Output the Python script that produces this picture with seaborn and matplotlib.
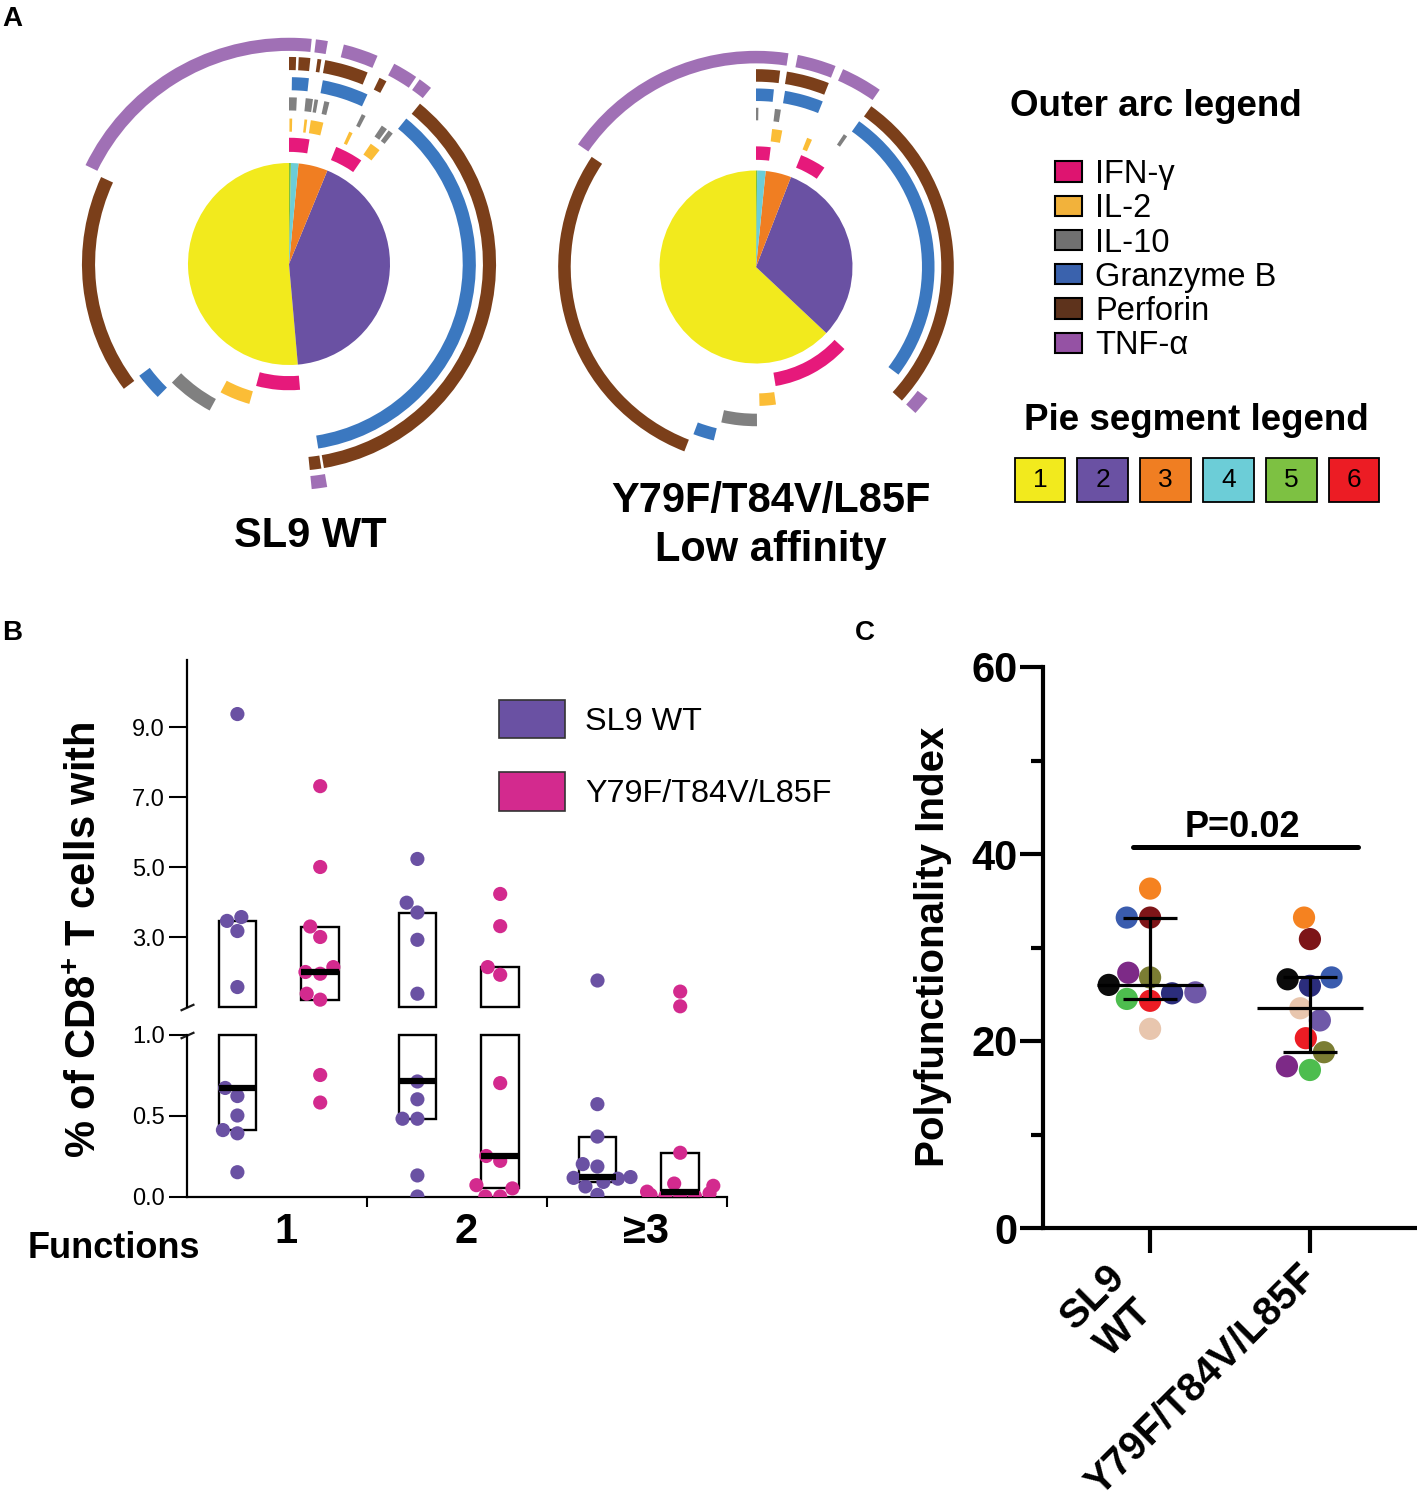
import numpy as np
import pandas as pd
import matplotlib
matplotlib.use('Agg')
import matplotlib.pyplot as plt
from matplotlib.patches import Patch
from matplotlib.ticker import FormatStrFormatter
from matplotlib.transforms import ScaledTranslation
import seaborn as sns

# ---------------------------------------------------------------- data
# Panel A : pie segments = % of the response with 1..6 functions
pie_labels = ['1', '2', '3', '4', '5', '6']
pie_wt = [51.4, 42.4, 4.7, 1.2, 0.3, 0.0]
pie_mut = [63.0, 31.1, 4.3, 1.4, 0.2, 0.0]

cytokines = ['IFN-γ', 'IL-2', 'IL-10', 'Granzyme B', 'Perforin', 'TNF-α']

# outer arcs : (start %, end %) of the pie covered by each function
# (percent measured counter-clockwise from 12 o'clock, like the pie)
arcs_wt_ifng = [(97.4, 100.0), (90.3, 93.9), (45.8, 51.4)]
arcs_wt_il2 = [(99.65, 99.95), (98.0, 98.3), (96.2, 97.6), (92.8, 93.2), (89.3, 90.5), (42.2, 45.6)]
arcs_wt_il10 = [(99.25, 100.0), (97.7, 98.4), (97.2, 97.55), (96.1, 96.6), (92.4, 92.8),
                (90.0, 90.6), (89.3, 89.8), (37.6, 42.1)]
arcs_wt_gzmb = [(98.3, 99.75), (93.1, 97.1), (52.5, 89.2), (35.2, 37.6)]
arcs_wt_perf = [(99.45, 100.0), (98.35, 99.25), (97.5, 97.8), (93.8, 97.2), (92.2, 92.8),
                (52.7, 89.1), (51.6, 52.5), (18.1, 35.3)]
arcs_wt_tnf = [(98.4, 17.8), (97.25, 98.1), (93.6, 96.1), (90.5, 92.3), (89.2, 90.2), (51.6, 52.7)]

arcs_mut_ifng = [(98.05, 100.0), (90.4, 93.9), (52.6, 63.1)]
arcs_mut_il2 = [(96.97, 98.15), (93.4, 94.0), (50.4, 52.3)]
arcs_mut_il10 = [(99.76, 100.0), (97.5, 98.1), (90.3, 90.7), (46.5, 50.1)]
arcs_mut_gzmb = [(98.4, 100.0), (93.9, 97.4), (64.7, 90.2), (44.3, 46.2)]
arcs_mut_perf = [(98.05, 100.0), (94.0, 97.5), (63.2, 90.1), (15.6, 44.1)]
arcs_mut_tnf = [(97.6, 15.4), (94.0, 96.9), (90.3, 93.4), (63.2, 64.6)]

# Panel B : % of CD8+ T cells with 1, 2, >=3 functions
func_labels = ['1', '2', '≥3']
groups = ['SL9 WT', 'Y79F/T84V/L85F']
b_wt_1 = [9.37, 3.46, 3.17, 3.57, 1.57, 0.67, 0.62, 0.50, 0.41, 0.39, 0.15]
b_mut_1 = [7.31, 5.0, 3.3, 3.0, 2.14, 1.95, 2.0, 1.21, 1.38, 0.75, 0.58]
b_wt_2 = [5.23, 3.98, 3.70, 2.92, 1.38, 0.71, 0.60, 0.48, 0.48, 0.13, 0.0]
b_mut_2 = [4.23, 3.31, 2.14, 1.92, 0.70, 0.22, 0.25, 0.05, 0.07, 0.0, 0.0]
b_wt_3 = [1.77, 0.57, 0.37, 0.20, 0.185, 0.12, 0.115, 0.11, 0.09, 0.062, 0.01]
b_mut_3 = [1.44, 1.02, 0.27, 0.08, 0.066, 0.03, 0.02, 0.01, 0.0, 0.0, 0.0]

# Panel C : polyfunctionality index per donor
donors = ['D1', 'D2', 'D3', 'D4', 'D5', 'D6', 'D7', 'D8', 'D9', 'D10', 'D11']
donor_colors = ['#0b0b0b', '#7b7d33', '#4dbd4e', '#6f58a8', '#ec1c24', '#2b2d7c',
                '#7d2a87', '#7d1518', '#3a5cae', '#f58220', '#e8c6ae']
pfi_wt = [26.0, 26.8, 24.5, 25.2, 24.3, 25.1, 27.3, 33.2, 33.2, 36.3, 21.3]
pfi_mut = [26.6, 18.8, 16.9, 22.2, 20.3, 25.9, 17.3, 30.9, 26.8, 33.2, 23.5]
p_text = 'P=0.02'

# ---------------------------------------------------------------- style
pie_colors = ['#f2ea1d', '#6a51a3', '#f07e22', '#6ccdd7', '#7dc142', '#ec1c24']
arc_colors = ['#e6197b', '#fbbd36', '#808080', '#3b78c0', '#7b3f1a', '#a070b5']
legend_arc_colors = ['#de1470', '#f2b23b', '#707070', '#3a62ad', '#5e331c', '#9552a4']
grp_colors = {'SL9 WT': '#6a51a3', 'Y79F/T84V/L85F': '#d32a8e'}

sns.set_theme(style='ticks')
plt.rcParams['font.family'] = ['Liberation Sans', 'DejaVu Sans']
plt.rcParams['mathtext.fontset'] = 'custom'
plt.rcParams['mathtext.rm'] = 'Liberation Sans'
plt.rcParams['mathtext.bf'] = 'Liberation Sans:bold'
plt.rcParams['axes.edgecolor'] = 'black'
plt.rcParams['xtick.color'] = 'black'
plt.rcParams['ytick.color'] = 'black'
plt.rcParams['text.color'] = 'black'

W, H = 1417, 1507
fig = plt.figure(figsize=(W / 100, H / 100), dpi=100)


def px_axes(l, t, r, b):
    return fig.add_axes([l / W, 1 - b / H, (r - l) / W, (b - t) / H])


def ftext(x, y, s, **kw):
    return fig.text(x / W, 1 - y / H, s, **kw)


# ---------------------------------------------------------------- panel A
rings = [(1.11, 1.25), (1.31, 1.44), (1.52, 1.65), (1.72, 1.85), (1.92, 2.05), (2.11, 2.24)]


def draw_ring(ax, spans, r_in, r_out, color):
    segs = []
    for s, e in spans:
        if e < s:
            segs += [(s, 100.0), (0.0, e)]
        else:
            segs.append((s, e))
    segs.sort()
    sizes, cols = [], []
    pos = 0.0
    for s, e in segs:
        s = max(s, pos)
        if s > pos:
            sizes.append(s - pos)
            cols.append((0, 0, 0, 0))
        if e > s:
            sizes.append(e - s)
            cols.append(color)
        pos = max(pos, e)
    if pos < 100:
        sizes.append(100 - pos)
        cols.append((0, 0, 0, 0))
    ax.pie(sizes, colors=cols, radius=r_out, startangle=90, counterclock=True,
           wedgeprops=dict(width=r_out - r_in, linewidth=0, edgecolor='none'))


LIM = 2.3
pies = [
    (289, 264, 101, pie_wt, [arcs_wt_ifng, arcs_wt_il2, arcs_wt_il10, arcs_wt_gzmb, arcs_wt_perf, arcs_wt_tnf]),
    (756, 267, 96.5, pie_mut, [arcs_mut_ifng, arcs_mut_il2, arcs_mut_il10, arcs_mut_gzmb, arcs_mut_perf, arcs_mut_tnf]),
]
for cx, cy, R, vals, arc_sets in pies:
    ax = px_axes(cx - LIM * R, cy - LIM * R, cx + LIM * R, cy + LIM * R)
    ax.pie(vals, colors=pie_colors, radius=1, startangle=90, counterclock=True,
           wedgeprops=dict(linewidth=0, edgecolor='none'))
    for spans, (ri, ro), col in zip(arc_sets, rings, arc_colors):
        draw_ring(ax, spans, ri, ro, col)
    ax.set_xlim(-LIM, LIM)
    ax.set_ylim(-LIM, LIM)
    ax.set_aspect('equal')
    ax.axis('off')

ftext(310, 547, 'SL9 WT', ha='center', va='baseline', fontsize=30, fontweight='bold')
ftext(771, 512, 'Y79F/T84V/L85F', ha='center', va='baseline', fontsize=30, fontweight='bold')
ftext(771, 561, 'Low affinity', ha='center', va='baseline', fontsize=30, fontweight='bold')

# outer arc legend
ftext(1156, 116, 'Outer arc legend', ha='center', va='baseline', fontsize=26.5, fontweight='bold')
arc_handles = [Patch(facecolor=c, edgecolor='black', linewidth=1.5, label=l)
               for c, l in zip(legend_arc_colors, cytokines)]
fig.legend(handles=arc_handles, loc='upper left', bbox_to_anchor=(1055 / W, 1 - 159 / H),
           frameon=False, fontsize=23.5, handlelength=0.83, handleheight=0.58,
           handletextpad=0.4, labelspacing=0.1, borderpad=0, borderaxespad=0)

# pie segment legend
ftext(1196, 430, 'Pie segment legend', ha='center', va='baseline', fontsize=26.5, fontweight='bold')
axl = px_axes(1008.6, 458, 1385.4, 502)
bars = axl.bar(np.arange(1, 7), np.ones(6), width=0.81, color=pie_colors,
               edgecolor='black', linewidth=1.3, clip_on=False)
axl.bar_label(bars, labels=pie_labels, label_type='center', fontsize=19)
axl.set_xlim(0.5, 6.5)
axl.set_ylim(0, 1)
axl.axis('off')

# ---------------------------------------------------------------- panel B
rows = []
for fi, (wt, mut) in enumerate([(b_wt_1, b_mut_1), (b_wt_2, b_mut_2), (b_wt_3, b_mut_3)]):
    for g, vals in zip(groups, [wt, mut]):
        for v in vals:
            rows.append(dict(func=fi, group=g, value=v))
dfb = pd.DataFrame(rows)
offs = {'SL9 WT': 0.28, 'Y79F/T84V/L85F': 0.74}
dfb['xpos'] = dfb['func'] + dfb['group'].map(offs)

up_lo, up_hi = 1.0, 1.0 + (1007 - 660) / 35.0
upper = px_axes(187, 660, 727, 1007)
lower = px_axes(187, 1034.5, 727, 1196.5)

sns.swarmplot(data=dfb[dfb['value'] >= up_lo], x='xpos', y='value', hue='group',
              palette=grp_colors, native_scale=True, size=10.2, ax=upper, legend=False,
              clip_on=False, zorder=3, linewidth=0)
sns.swarmplot(data=dfb[dfb['value'] < up_lo], x='xpos', y='value', hue='group',
              palette=grp_colors, native_scale=True, size=10.2, ax=lower, legend=False,
              zorder=3, linewidth=0)

BW = 0.21
for (fi, g), sub in dfb.groupby(['func', 'group']):
    q1, med, q3 = np.percentile(sub['value'], [25, 50, 75], method='weibull')
    x = fi + offs[g]
    for ax, lo, hi in [(upper, up_lo, up_hi), (lower, 0.0, 1.0)]:
        b0, b1 = np.clip([q1, q3], lo, hi)
        if b1 > b0:
            ax.bar(x, b1 - b0, bottom=b0, width=BW, fill=False, edgecolor='black',
                   linewidth=1.7, clip_on=False, zorder=2)
        if lo <= med <= hi:
            ax.hlines(med, x - BW / 2, x + BW / 2, color='black', linewidth=4.5,
                      zorder=4, clip_on=False)

for ax in (upper, lower):
    ax.set_xlim(0, 3)
    ax.set_xlabel('')
    ax.set_ylabel('')
    for s in ('top', 'right'):
        ax.spines[s].set_visible(False)
    ax.spines['left'].set_linewidth(1.6)
    ax.tick_params(axis='y', direction='out', length=13, width=1.5, labelsize=17, pad=3)
upper.spines['bottom'].set_visible(False)
upper.set_ylim(up_lo, up_hi)
upper.set_yticks([3, 5, 7, 9])
upper.yaxis.set_major_formatter(FormatStrFormatter('%.1f'))
upper.set_xticks([])
lower.set_ylim(0, 1.0)
lower.set_yticks([0, 0.5, 1.0])
lower.yaxis.set_major_formatter(FormatStrFormatter('%.1f'))
lower.spines['bottom'].set_linewidth(1.6)
lower.set_xticks([1, 2, 3], labels=['', '', ''])
lower.tick_params(axis='x', which='major', direction='out', length=7, width=1.5)
lower.set_xticks([i + 0.55 for i in range(3)], labels=func_labels, minor=True)
lower.tick_params(axis='x', which='minor', length=0, pad=11.5, labelsize=30)
for lbl in lower.get_xticklabels(minor=True):
    lbl.set_fontweight('bold')

brk = dict(marker=[(-1, -0.45), (1, 0.45)], markersize=10, linestyle='none',
           color='k', mec='k', mew=1.6, clip_on=False)
upper.plot([0], [0], transform=upper.transAxes, **brk)
lower.plot([0], [1], transform=lower.transAxes, **brk)

b_handles = [Patch(facecolor=grp_colors[g], edgecolor='#333333', linewidth=1.2, label=g) for g in groups]
upper.legend(handles=b_handles, loc='upper left', bbox_to_anchor=(499 / W, 1 - 700 / H),
             bbox_transform=fig.transFigure, frameon=False, fontsize=23.3,
             handlelength=2.04, handleheight=1.45, handletextpad=0.62, labelspacing=1.05,
             borderpad=0, borderaxespad=0)

ftext(85, 940, '% of CD8$^{\\mathbf{+}}$ T cells with', rotation=90, ha='center', va='center',
      fontsize=30, fontweight='bold')
ftext(28, 1258, 'Functions', ha='left', va='baseline', fontsize=26, fontweight='bold')

# ---------------------------------------------------------------- panel C
dfc = pd.DataFrame({
    'grp': [groups[0]] * len(pfi_wt) + [groups[1]] * len(pfi_mut),
    'donor': donors + donors,
    'pfi': pfi_wt + pfi_mut,
})
axc = px_axes(1043, 667, 1417, 1228)
sns.swarmplot(data=dfc, x='grp', y='pfi', hue='donor', order=groups, hue_order=donors,
              palette=donor_colors, size=16, ax=axc, legend=False, zorder=3, linewidth=0)
for i, vals in enumerate([pfi_wt, pfi_mut]):
    q1, med, q3 = np.percentile(vals, [25, 50, 75], method='weibull')
    axc.hlines(med, i - 0.33, i + 0.33, color='black', linewidth=2.3, zorder=4)
    axc.hlines([q1, q3], i - 0.17, i + 0.17, color='black', linewidth=2.3, zorder=4)
    axc.vlines(i, q1, q3, color='black', linewidth=2.3, zorder=4)
axc.hlines(40.7, -0.11, 1.30, color='black', linewidth=3.6, capstyle='round')
axc.text(0.58, 41.8, p_text, ha='center', va='baseline', fontsize=26, fontweight='bold')

axc.set_xlim(-0.67, 1.67)
axc.set_ylim(0, 60)
axc.set_xlabel('')
axc.set_ylabel('')
for s in ('top', 'right'):
    axc.spines[s].set_visible(False)
for s in ('left', 'bottom'):
    axc.spines[s].set_linewidth(3)
axc.set_yticks([0, 20, 40, 60], labels=['0', '20', '40', '60'], fontsize=30, fontweight='bold')
axc.set_yticks([10, 30, 50], minor=True)
axc.tick_params(axis='y', which='major', direction='out', length=16.5, width=3, pad=2)
axc.tick_params(axis='y', which='minor', direction='out', length=8.6, width=3)
axc.set_xticks([0, 1], labels=['SL9\nWT', 'Y79F/T84V/L85F'], rotation=45, ha='right', va='top',
               fontsize=29, fontweight='bold', multialignment='center')
axc.tick_params(axis='x', direction='out', length=18, width=3, pad=3)
shift = ScaledTranslation(14 / 100, 0, fig.dpi_scale_trans)
for lbl in axc.get_xticklabels():
    lbl.set_transform(lbl.get_transform() + shift)

ftext(933, 947, 'Polyfunctionality Index', rotation=90, ha='center', va='center',
      fontsize=29, fontweight='bold')

# panel letters
ftext(2, 26, 'A', fontsize=20, fontweight='bold', va='baseline')
ftext(2, 640, 'B', fontsize=20, fontweight='bold', va='baseline')
ftext(855, 640, 'C', fontsize=20, fontweight='bold', va='baseline')

fig.savefig('out.png', dpi=100)
